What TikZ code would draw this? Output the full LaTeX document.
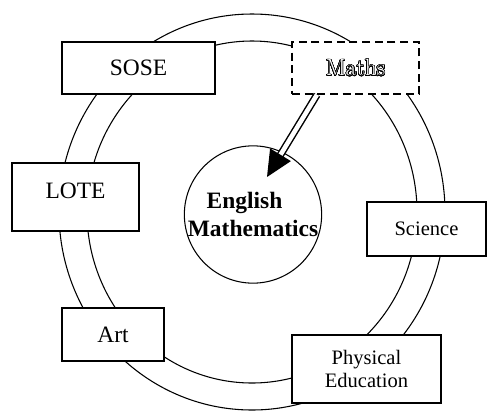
\documentclass[tikz,border=0pt]{standalone}
\usepackage{fontspec}
\setmainfont{Liberation Serif}
\newfontfamily\lmfont{Latin Modern Roman}
\usepackage{contour}
\contourlength{0.45pt}
\contournumber{32}
\usepackage{tikz}
\usetikzlibrary{arrows.meta}
\usetikzlibrary{positioning}
\usetikzlibrary{calc}

\tikzstyle{ring} = [line width=0.8pt]
\tikzstyle{subject} = [draw, line width=1.1pt, fill=white, inner sep=0pt, font=\fontsize{17.6}{21}\selectfont]
\tikzstyle{smallsubject} = [subject, font=\fontsize{15.4}{17.3}\selectfont, align=center]
\tikzstyle{link} = [line width=1.1pt, double distance=3.4pt, -{Triangle[length=19.5pt, width=18pt]}]

\begin{document}
\begin{tikzpicture}[x=0.75pt, y=-0.75pt]
    \useasboundingbox (0,0) rectangle (489,412);

    % the two rings
    \draw[ring] (252,212) ellipse [x radius=193, y radius=198];
    \draw[ring] (252,212) ellipse [x radius=165, y radius=171];

    % core in the middle
    \node[circle, draw, line width=0.8pt, minimum size=97.5pt, inner sep=0pt, align=center,
          font=\fontsize{17.6}{21}\selectfont\bfseries] (core) at (253,214.5)
          {English\hphantom{N}\\Mathematics};

    % subjects round the ring
    \node[subject, minimum width=114.75pt, minimum height=39pt] (sose) at (138.5,68) {SOSE};
    \node[subject, dash pattern=on 6pt off 3.5pt, minimum width=95.25pt, minimum height=39pt] (maths) at (355.5,68)
          {\lmfont\contour{black}{\textcolor{white}{Maths}}};
    \node[subject, minimum width=95.25pt, minimum height=51pt, text depth=10pt] (lote) at (75.5,197) {LOTE};
    \node[smallsubject, minimum width=89.25pt, minimum height=40.5pt] (science) at (426.5,229) {Science};
    \node[subject, minimum width=76.5pt, minimum height=39.75pt] (art) at (113,334.5) {Art};
    \node[smallsubject, minimum width=111.75pt, minimum height=51pt] (pe) at (366.5,369) {Physical\\Education};

    % arrow from Maths into the core
    \coordinate (start) at ($(maths.south west)!0.2!(maths.south east)$);
    \coordinate (tip) at ($(core.center)+(14,-37.5)$);
    \draw[link] (start) -- (tip);
\end{tikzpicture}
\end{document}
